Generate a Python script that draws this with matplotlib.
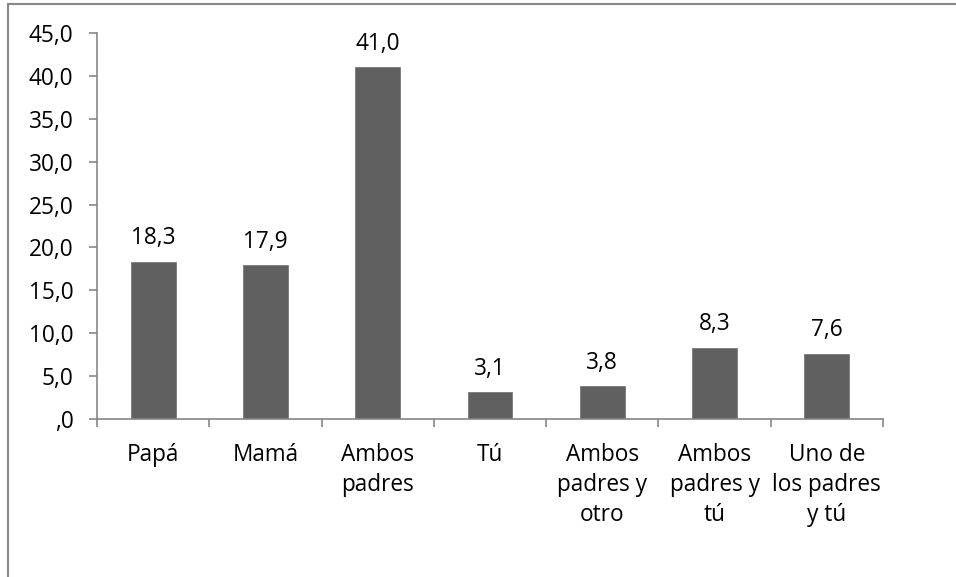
import matplotlib
matplotlib.use("Agg")
import matplotlib.pyplot as plt
from matplotlib.lines import Line2D
import numpy as np

categories = ["Papá", "Mamá", "Ambos\npadres", "Tú", "Ambos\npadres y\notro", "Ambos\npadres y\ntú", "Uno de\nlos padres\ny tú"]
values = [18.3, 17.9, 41.0, 3.1, 3.8, 8.3, 7.6]
yticks = [0, 5, 10, 15, 20, 25, 30, 35, 40, 45]
ytick_labels = [",0", "5,0", "10,0", "15,0", "20,0", "25,0", "30,0", "35,0", "40,0", "45,0"]

plt.rcParams['font.family'] = ['Open Sans', 'DejaVu Sans']
FS = 16.3
W, H = 956, 577
fig = plt.figure(figsize=(W/100, H/100), dpi=100)
ax = fig.add_axes([97/W, 1-419/H, (883-97)/W, (419-33)/H])

x = np.arange(len(values))
ax.bar(x, values, width=0.4, color="#606060", edgecolor="#7a7a7a", linewidth=0.6, zorder=2)
for xi, v in zip(x, values):
    ax.annotate(f"{v:.1f}".replace(".", ","), (xi, v), xytext=(0, 8.5), textcoords="offset points",
                ha="center", va="bottom", fontsize=FS, color="black")

ax.set_xlim(-0.5, len(values)-0.5)
ax.set_ylim(0, 45)
ax.set_yticks(yticks)
ax.set_yticklabels(ytick_labels, fontsize=FS)
ax.set_xticks(np.arange(len(values)+1)-0.5)
ax.set_xticklabels([])
ax.set_xticks(x, minor=True)
ax.set_xticklabels(categories, minor=True, fontsize=FS, linespacing=1.35, va="top")
ax.tick_params(axis="x", which="minor", length=0, pad=17)
ax.tick_params(axis="x", which="major", length=6, width=1.2, color="#868686", direction="out")
ax.tick_params(axis="y", length=6, width=1.2, color="#868686", direction="out", pad=11)
for s in ["top", "right"]:
    ax.spines[s].set_visible(False)
for s in ["left", "bottom"]:
    ax.spines[s].set_color("#868686")
    ax.spines[s].set_linewidth(1.2)

# figure border (top and left visible)
fig.add_artist(Line2D([8/W, 8/W], [0, 1-4/H], transform=fig.transFigure, color="#888888", lw=1.5))
fig.add_artist(Line2D([8/W, 1], [1-4/H, 1-4/H], transform=fig.transFigure, color="#888888", lw=1.5))

fig.savefig("out.png", dpi=100)
